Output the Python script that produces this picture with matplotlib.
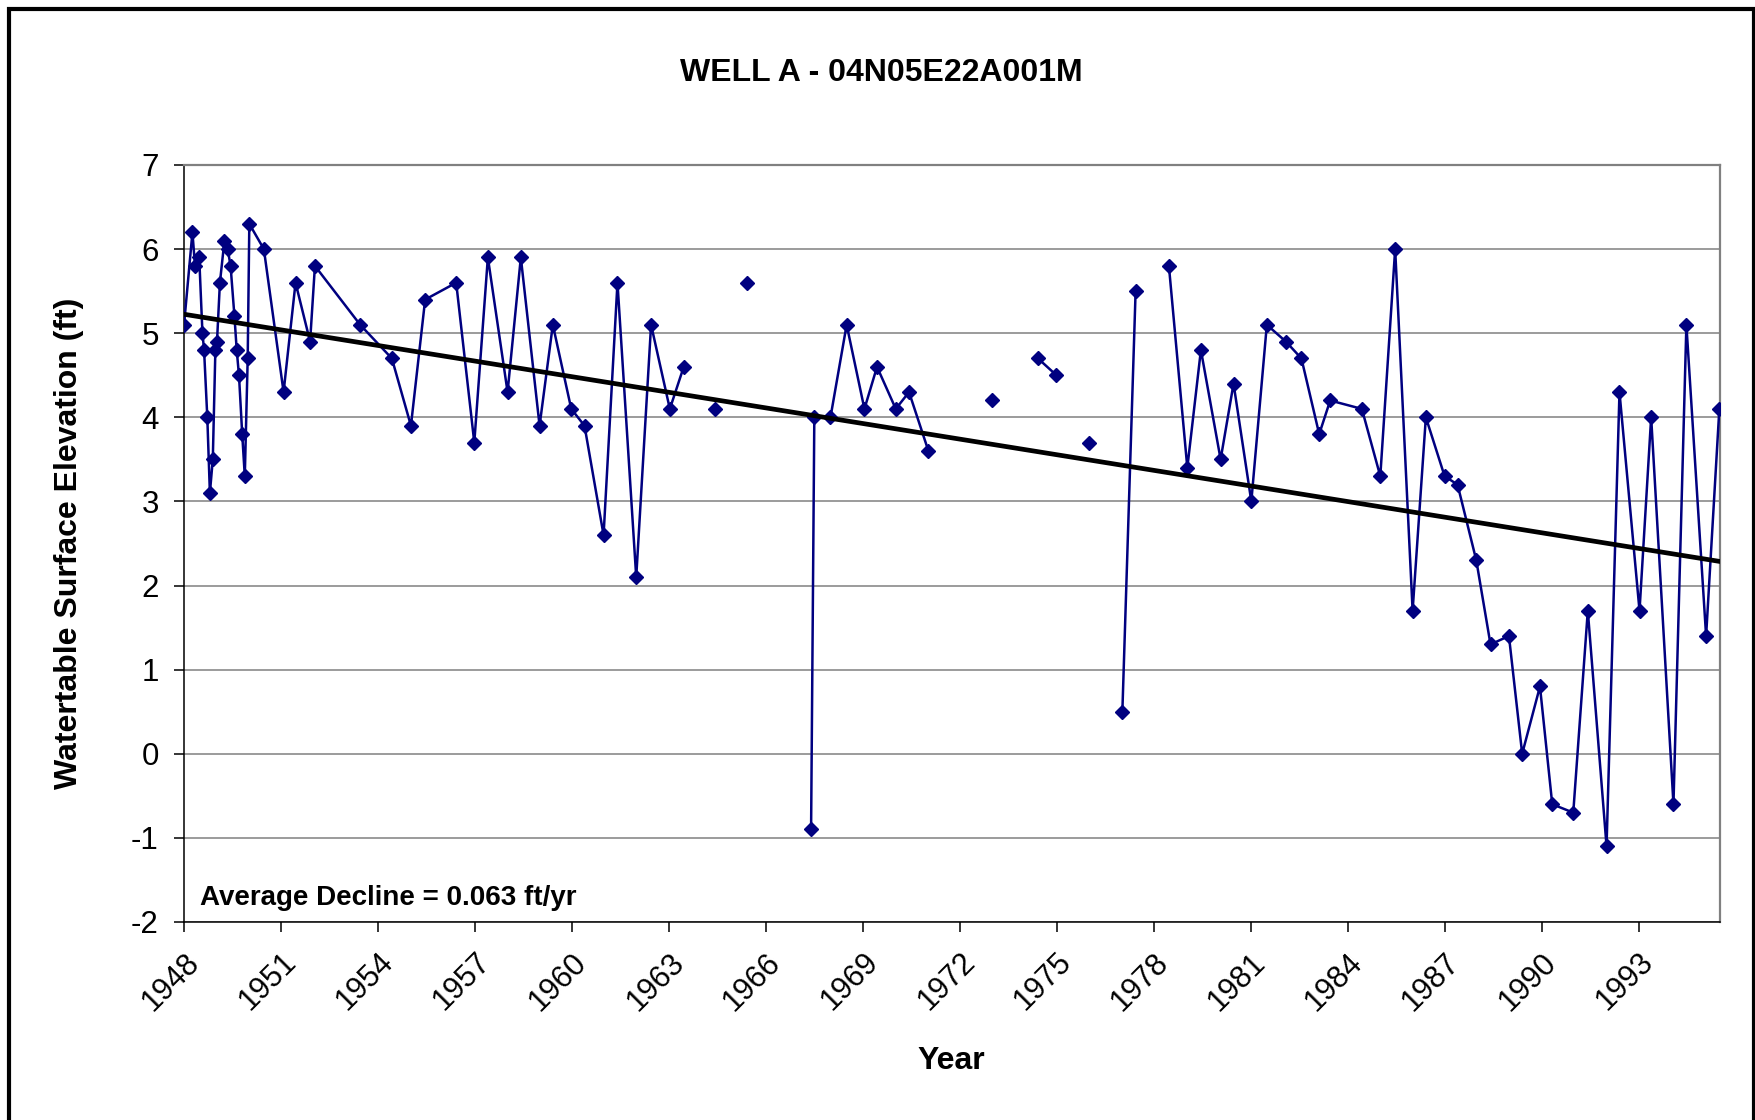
import numpy as np
import matplotlib
matplotlib.use("Agg")
import matplotlib.pyplot as plt
from matplotlib.patches import Rectangle

plt.rcParams["font.family"] = ["Liberation Sans", "DejaVu Sans"]
plt.rcParams["axes.unicode_minus"] = False

# ── Data (NaN = no reading, breaks the line) ─────────────────────────────
years = [
    1948.00, 1948.26, 1948.34, 1948.47, 1948.57, 1948.62, 1948.72, 1948.80,
    1948.89, 1948.97, 1949.02, 1949.11, 1949.25, 1949.35, 1949.44, 1949.56,
    1949.63, 1949.70, 1949.80, 1949.88, 1949.97, 1950.02, 1950.47, 1951.08,
    1951.45, 1951.90, 1952.05, 1953.45, 1954.43, 1955.02, 1955.46, 1956.42,
    1956.98, 1957.40, 1958.01, 1958.42, 1959.00, 1959.41, 1959.98, 1960.39,
    1960.98, 1961.41, 1961.99, 1962.45, 1963.03, 1963.46,
    1964.00, 1964.44, 1965.00, 1965.42, 1966.50,
    1967.40, 1967.50, 1968.00, 1968.50, 1969.05, 1969.44, 1970.02, 1970.43,
    1971.03, 1972.00, 1973.01, 1974.00, 1974.42, 1974.99, 1975.50, 1976.00,
    1976.50, 1977.03, 1977.44, 1978.00, 1978.47, 1979.04, 1979.46, 1980.07,
    1980.47, 1981.02, 1981.50, 1982.09, 1982.57, 1983.12, 1983.46, 1984.44,
    1985.01, 1985.47, 1986.01, 1986.42, 1987.00, 1987.40, 1987.98, 1988.42,
    1988.99, 1989.40, 1989.95, 1990.33, 1990.98, 1991.43, 1992.01, 1992.41,
    1993.03, 1993.39, 1994.08, 1994.48, 1995.09, 1995.50,
]
elev = [
    5.1, 6.2, 5.8, 5.9, 5.0, 4.8, 4.0, 3.1,
    3.5, 4.8, 4.9, 5.6, 6.1, 6.0, 5.8, 5.2,
    4.8, 4.5, 3.8, 3.3, 4.7, 6.3, 6.0, 4.3,
    5.6, 4.9, 5.8, 5.1, 4.7, 3.9, 5.4, 5.6,
    3.7, 5.9, 4.3, 5.9, 3.9, 5.1, 4.1, 3.9,
    2.6, 5.6, 2.1, 5.1, 4.1, 4.6,
    np.nan, 4.1, np.nan, 5.6, np.nan,
    -0.9, 4.0, 4.0, 5.1, 4.1, 4.6, 4.1, 4.3,
    3.6, np.nan, 4.2, np.nan, 4.7, 4.5, np.nan, 3.7,
    np.nan, 0.5, 5.5, np.nan, 5.8, 3.4, 4.8, 3.5,
    4.4, 3.0, 5.1, 4.9, 4.7, 3.8, 4.2, 4.1,
    3.3, 6.0, 1.7, 4.0, 3.3, 3.2, 2.3, 1.3,
    1.4, 0.0, 0.8, -0.6, -0.7, 1.7, -1.1, 4.3,
    1.7, 4.0, -0.6, 5.1, 1.4, 4.1,
]

title = "WELL A - 04N05E22A001M"
decline_note = "Average Decline = 0.063 ft/yr"
x_ticks = list(range(1948, 1994, 3))
y_ticks = list(range(-2, 8))
x_range = (1948.0, 1995.52)

NAVY = "#000080"
GRID = "#808080"

# ── Trend (least squares over the readings) ─────────────────────────────
yr = np.array(years)
ev = np.array(elev)
ok = ~np.isnan(ev)
slope, icept = np.polyfit(yr[ok], ev[ok], 1)
trend_x = np.array(x_range)
trend_y = slope * trend_x + icept

# ── Plot ────────────────────────────────────────────────────────────────
fig = plt.figure(figsize=(17.56, 11.2), dpi=100)
ax = fig.add_axes([0.1048, 0.1768, 0.8747, 0.6759])

ax.plot(yr, ev, color=NAVY, linewidth=1.8, marker="D", markersize=7.5,
        markerfacecolor=NAVY, markeredgecolor=NAVY, zorder=3)
ax.plot(trend_x, trend_y, color="black", linewidth=3.4, zorder=4)

ax.set_xlim(*x_range)
ax.set_ylim(-2, 7)
ax.set_yticks(y_ticks)
ax.set_xticks(x_ticks)
ax.set_xticklabels([str(t) for t in x_ticks], rotation=45, ha="right",
                   va="top", rotation_mode="anchor")
ax.tick_params(axis="y", labelsize=22.5, length=7.2, width=1.1, pad=11,
               direction="out")
ax.tick_params(axis="x", labelsize=22, length=7.2, width=1.1, pad=11,
               direction="out")
ax.yaxis.grid(True, color=GRID, linewidth=1.1)
ax.set_axisbelow(True)

for side in ("top", "right"):
    ax.spines[side].set_color(GRID)
    ax.spines[side].set_linewidth(1.6)
for side in ("left", "bottom"):
    ax.spines[side].set_color("black")
    ax.spines[side].set_linewidth(1.1)

ax.text(0.0105, 0.0225, decline_note, transform=ax.transAxes,
        fontsize=20, fontweight="bold", ha="left", va="baseline")

fig.text(0.5017, 0.928, title, fontsize=23, fontweight="bold",
         ha="center", va="baseline")
fig.text(0.0393, 0.515, "Watertable Surface Elevation (ft)", fontsize=23,
         fontweight="bold", rotation=90, ha="center", va="center")
fig.text(0.542, 0.0527, "Year", fontsize=23, fontweight="bold",
         ha="center", va="center")

# black frame around the chart (open at the bottom, as in the original)
fig.patches.append(Rectangle((9.5 / 1756, -0.1), 1744.5 / 1756, 1.1 - 9 / 1120,
                             transform=fig.transFigure, fill=False,
                             edgecolor="black", linewidth=3, clip_on=False))

fig.savefig("out.png", dpi=100)
